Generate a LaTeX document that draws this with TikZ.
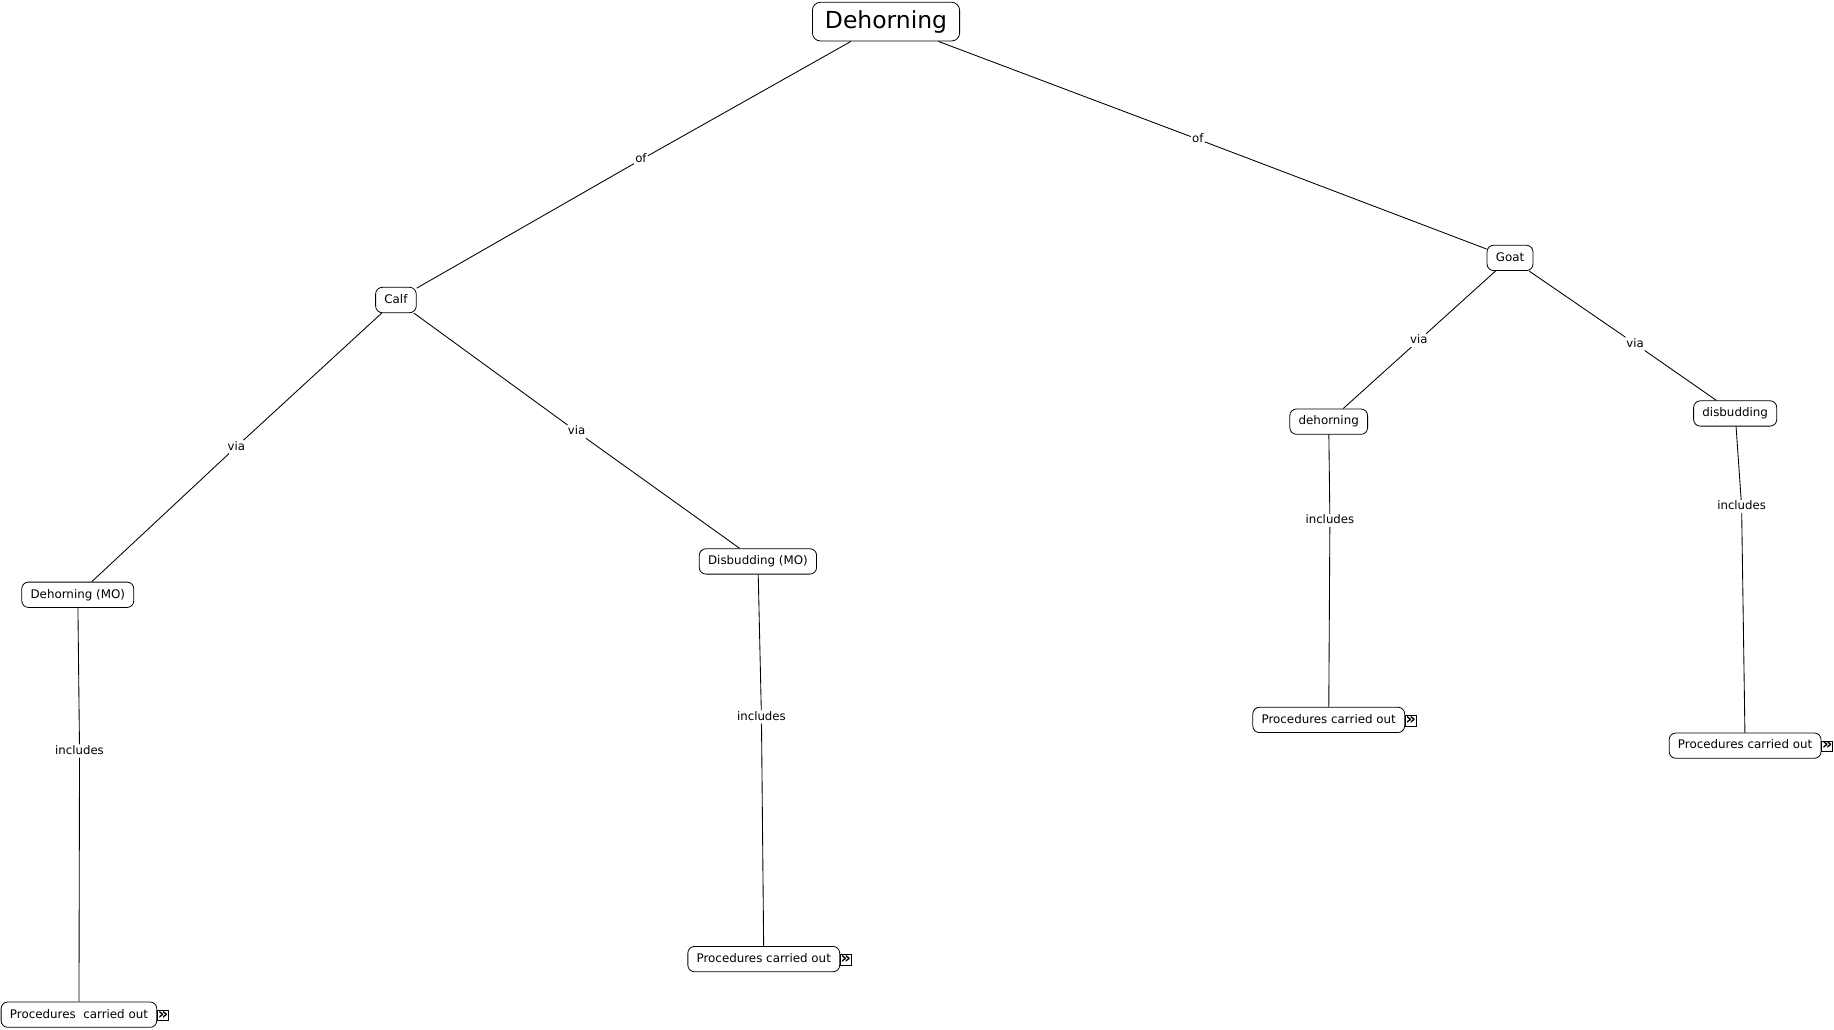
\documentclass[tikz,border=0pt]{standalone}
\usepackage{fontspec}
\setmainfont{DejaVu Sans}
\begin{document}
\begin{tikzpicture}[x=0.8772pt,y=-0.8772pt,
  concept/.style={draw, rounded corners=5pt, line width=0.6pt,
    font=\fontsize{8.9}{10}\selectfont, inner xsep=6.6pt, inner ysep=0pt,
    minimum height=19pt, text height=7pt, text depth=2pt},
  titlebox/.style={draw, rounded corners=6pt, line width=0.6pt,
    font=\fontsize{17.6}{20}\selectfont, inner xsep=9.4pt, inner ysep=0pt,
    minimum height=29pt},
  linklbl/.style={font=\fontsize{8.8}{10}\selectfont, inner sep=0.8pt,
    text height=6.5pt, text depth=1.5pt},
  link/.style={line width=0.65pt},
  iconbox/.style={draw, line width=0.5pt, inner sep=0pt, minimum width=8.2pt,
    minimum height=8.2pt, text height=6pt, text depth=0.5pt,
    font=\bfseries\fontsize{12}{12}\selectfont, anchor=west}
]
\useasboundingbox (0,0) rectangle (1568,880);

% concepts
\node[titlebox] (root) at (757.5,18.5) {Dehorning};
\node[concept] (calf) at (338.5,256.5) {Calf};
\node[concept] (goat) at (1291,220.5) {Goat};
\node[concept] (dmo) at (66.5,508.5) {Dehorning (MO)};
\node[concept] (bmo) at (648,480) {Disbudding (MO)};
\node[concept] (gd) at (1136,360.5) {dehorning};
\node[concept] (gb) at (1483.5,353.5) {disbudding};
\node[concept] (p1) at (67.5,867.5) {Procedures\ \ carried out};
\node[concept] (p2) at (653,820) {Procedures carried out};
\node[concept] (p3) at (1136,615.5) {Procedures carried out};
\node[concept] (p4) at (1492,637.5) {Procedures carried out};

% resource icons
\node[iconbox] (i1) at ([yshift=-0.5pt]p1.east) {»};
\node[iconbox] (i2) at ([yshift=-0.5pt]p2.east) {»};
\node[iconbox] (i3) at ([yshift=-0.5pt]p3.east) {»};
\node[iconbox] (i4) at ([yshift=-0.5pt]p4.east) {»};

% link labels
\node[linklbl] (of1) at (548,136.5) {of};
\node[linklbl] (of2) at (1024,119) {of};
\node[linklbl] (via1) at (202,382) {via};
\node[linklbl] (via2) at (493,369) {via};
\node[linklbl] (via3) at (1213,291) {via};
\node[linklbl] (via4) at (1398,294) {via};
\node[linklbl] (inc1) at (68,642) {includes};
\node[linklbl] (inc2) at (651,613) {includes};
\node[linklbl] (inc3) at (1137,445) {includes};
\node[linklbl] (inc4) at (1489,433) {includes};

% connectors
\draw[link] (root) -- (of1) -- (calf);
\draw[link] (root) -- (of2) -- (goat);
\draw[link] (calf) -- (via1) -- (dmo);
\draw[link] (calf) -- (via2) -- (bmo);
\draw[link] (goat) -- (via3) -- (gd);
\draw[link] (goat) -- (via4) -- (gb);
\draw[link] (dmo) -- (inc1) -- (p1);
\draw[link] (bmo) -- (inc2) -- (p2);
\draw[link] (gd) -- (inc3) -- (p3);
\draw[link] (gb) -- (inc4) -- (p4);
\end{tikzpicture}
\end{document}
